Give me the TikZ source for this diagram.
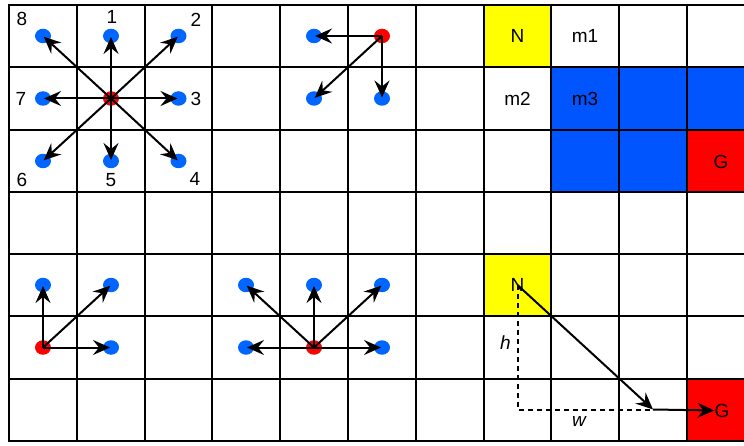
\documentclass[tikz,border=0pt]{standalone}
\usepackage{fontspec}
\setmainfont{Liberation Sans}
\usetikzlibrary{arrows.meta,shapes.geometric}
\definecolor{dotblue}{HTML}{0066FF}
\definecolor{cellblue}{HTML}{0055FF}
\definecolor{cellred}{HTML}{FF0000}
\definecolor{cellyellow}{HTML}{FFFF00}
\tikzset{
  bdot/.style={ellipse, fill=dotblue, minimum width=16pt, minimum height=14.5pt, inner sep=0pt},
  rdot/.style={ellipse, fill=cellred, minimum width=16pt, minimum height=14.5pt, inner sep=0pt},
  arr/.style={line width=2pt, -{Stealth[length=17pt,width=15pt,inset=6pt]}, shorten >=1pt},
  gridline/.style={line width=2pt, black},
  lbl/.style={font=\fontsize{19}{21}\selectfont, inner sep=0pt},
  dashline/.style={line width=2pt, dash pattern=on 5pt off 4pt},
}
\begin{document}
\begin{tikzpicture}[x=1pt,y=-1pt]
\useasboundingbox (0,0) rectangle (744,446);
% coloured cells
\fill[cellyellow] (484,5) rectangle (551,67);
\fill[cellblue] (551,67) rectangle (744,130);
\fill[cellblue] (551,130) rectangle (687,192);
\fill[cellred] (687,130) rectangle (744,192);
\fill[cellyellow] (484,254) rectangle (551,316);
\fill[cellred] (687,379) rectangle (744,441);
% grid
\foreach \x in {9,77,145,212,280,348,416,484,551,619,687} \draw[gridline] (\x,4) -- (\x,442);
\foreach \y in {5,67,130,192,254,316,379,441} \draw[gridline] (8,\y) -- (744,\y);
% panel 1: eight neighbours
\node[rdot] (c) at (111,98.5) {};
\node[bdot] (n1) at (111,36) {};
\node[bdot] (n2) at (178.5,36) {};
\node[bdot] (n3) at (178.5,98.5) {};
\node[bdot] (n4) at (178.5,161) {};
\node[bdot] (n5) at (111,161) {};
\node[bdot] (n6) at (43,161) {};
\node[bdot] (n7) at (43,98.5) {};
\node[bdot] (n8) at (43,36) {};
\foreach \k in {1,...,8} \draw[arr] (c.center) -- (n\k.center);
\node[lbl] (l8) at (22,19) {8};
\node[lbl] (l1) at (112,17) {1};
\node[lbl] (l2) at (196,20) {2};
\node[lbl] (l7) at (21,99) {7};
\node[lbl] (l3) at (196,99) {3};
\node[lbl] (l6) at (22,180) {6};
\node[lbl] (l5) at (111,180) {5};
\node[lbl] (l4) at (195,179) {4};
% panel 2
\node[rdot] (p2r) at (382,36) {};
\node[bdot] (p2a) at (314,36) {};
\node[bdot] (p2b) at (314,98.5) {};
\node[bdot] (p2c) at (382,98.5) {};
\draw[arr] (p2r.center) -- (p2a.center);
\draw[arr] (p2r.center) -- (p2b.center);
\draw[arr] (p2r.center) -- (p2c.center);
% panel 3 (bottom left)
\node[rdot] (p3r) at (43,347.5) {};
\node[bdot] (p3a) at (43,285) {};
\node[bdot] (p3b) at (111,285) {};
\node[bdot] (p3c) at (111,347.5) {};
\draw[arr] (p3r.center) -- (p3a.center);
\draw[arr] (p3r.center) -- (p3b.center);
\draw[arr] (p3r.center) -- (p3c.center);
% panel 4 (bottom middle)
\node[rdot] (p4r) at (314,347.5) {};
\node[bdot] (p4a) at (246,285) {};
\node[bdot] (p4b) at (314,285) {};
\node[bdot] (p4c) at (382,285) {};
\node[bdot] (p4d) at (246,347.5) {};
\node[bdot] (p4e) at (382,347.5) {};
\foreach \k in {a,b,c,d,e} \draw[arr] (p4r.center) -- (p4\k.center);
% panel 5 (top right)
\node[lbl] (N1) at (517.5,36) {N};
\node[lbl] (m1) at (585,36) {m1};
\node[lbl] (m2) at (517.5,98.5) {m2};
\node[lbl] (m3) at (585,98.5) {m3};
\node[lbl] (G1) at (721,161.5) {G};
% panel 6 (bottom right)
\node[lbl] (N2) at (517.5,285) {N};
\node[lbl] (G2) at (722,410.5) {G};
\coordinate (corner) at (517.5,409.5);
\coordinate (mid) at (653,409.5);
\draw[dashline] (N2.center) -- (corner) -- (mid);
\draw[arr, shorten >=0pt] (N2.center) -- (mid);
\draw[arr, shorten >=0pt] (mid) -- (G2.west);
\node[lbl, font=\fontsize{19}{21}\selectfont\itshape] (h) at (505.5,343) {h};
\node[lbl, font=\fontsize{19}{21}\selectfont\itshape] (w) at (579,421) {w};
\end{tikzpicture}
\end{document}
